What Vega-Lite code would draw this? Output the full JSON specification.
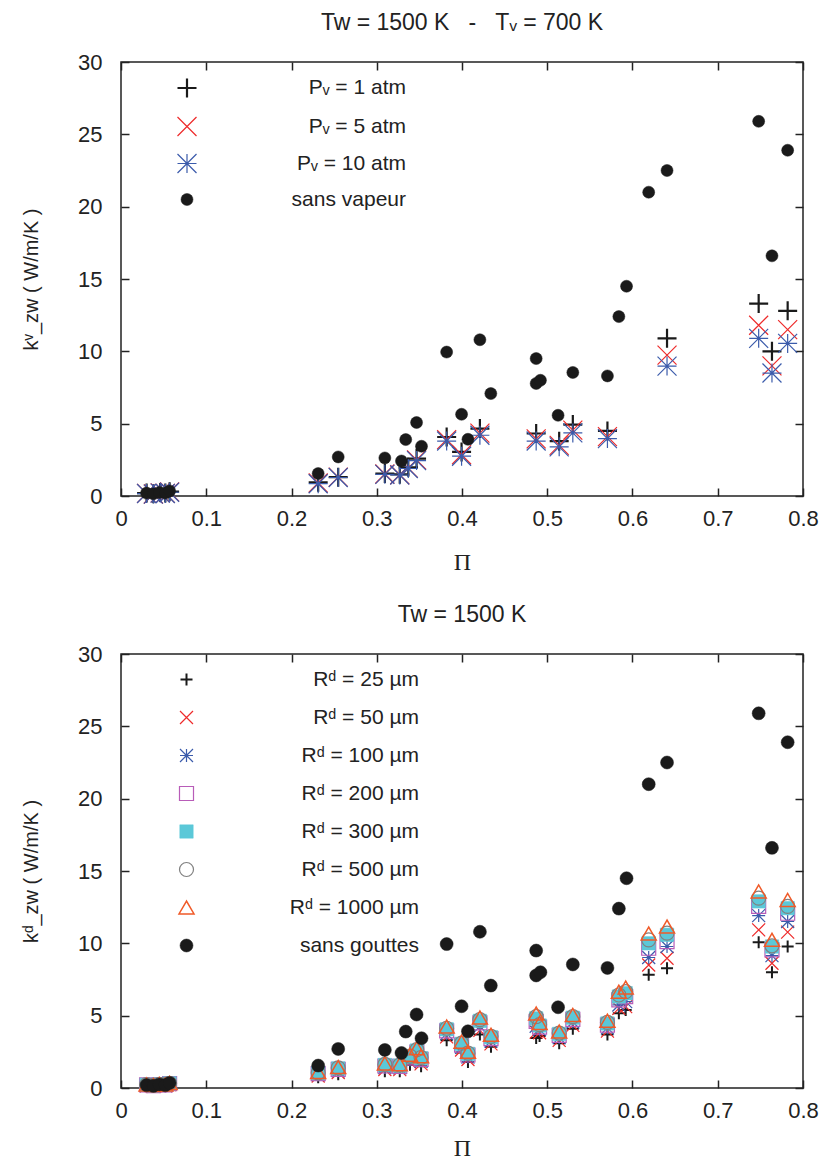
{
"$schema": "https://vega.github.io/schema/vega-lite/v6.json",
"background": "white",
"padding": {"left": 20, "top": 11, "right": 10, "bottom": 0},
"spacing": 28,
"config": {
  "font": "Liberation Sans",
  "view": {"stroke": "#222", "strokeWidth": 1.5},
  "axis": {"labelFont": "Liberation Sans", "labelFontSize": 22, "labelColor": "#222", "tickColor": "#222", "tickWidth": 1.5, "domain": false, "grid": false, "titleFontWeight": "normal", "titleColor": "#222", "labelFlush": false},
  "legend": {"labelFont": "Liberation Sans", "labelFontSize": 21, "labelColor": "#222", "labelLimit": 400},
  "title": {"fontSize": 23, "fontWeight": "normal", "color": "#222", "font": "Liberation Sans"}
},
"resolve": {"scale": {"shape": "independent", "stroke": "independent", "fill": "independent", "size": "independent", "strokeWidth": "independent"}},
"datasets": {
"vap": [
{"s":"p1","pi":0.03,"k":0.2},{"s":"p1","pi":0.038,"k":0.15},{"s":"p1","pi":0.046,"k":0.25},{"s":"p1","pi":0.052,"k":0.2},{"s":"p1","pi":0.057,"k":0.3},{"s":"p1","pi":0.2313,"k":0.95},{"s":"p1","pi":0.2548,"k":1.3},{"s":"p1","pi":0.3095,"k":1.55},{"s":"p1","pi":0.327,"k":1.5},{"s":"p1","pi":0.337,"k":1.98},{"s":"p1","pi":0.3467,"k":2.59},{"s":"p1","pi":0.382,"k":4.08},{"s":"p1","pi":0.3995,"k":3.05},{"s":"p1","pi":0.421,"k":4.66},{"s":"p1","pi":0.487,"k":4.32},{"s":"p1","pi":0.514,"k":3.79},{"s":"p1","pi":0.53,"k":4.94},{"s":"p1","pi":0.5706,"k":4.5},{"s":"p1","pi":0.6405,"k":10.9},{"s":"p1","pi":0.748,"k":13.3},{"s":"p1","pi":0.7636,"k":10.0},{"s":"p1","pi":0.782,"k":12.8},
{"s":"p5","pi":0.03,"k":0.18},{"s":"p5","pi":0.038,"k":0.14},{"s":"p5","pi":0.046,"k":0.22},{"s":"p5","pi":0.052,"k":0.18},{"s":"p5","pi":0.057,"k":0.28},{"s":"p5","pi":0.2313,"k":0.9},{"s":"p5","pi":0.2548,"k":1.3},{"s":"p5","pi":0.3095,"k":1.52},{"s":"p5","pi":0.327,"k":1.47},{"s":"p5","pi":0.337,"k":1.93},{"s":"p5","pi":0.3467,"k":2.5},{"s":"p5","pi":0.382,"k":3.9},{"s":"p5","pi":0.3995,"k":2.85},{"s":"p5","pi":0.421,"k":4.35},{"s":"p5","pi":0.487,"k":3.95},{"s":"p5","pi":0.514,"k":3.5},{"s":"p5","pi":0.53,"k":4.55},{"s":"p5","pi":0.5706,"k":4.1},{"s":"p5","pi":0.6405,"k":9.74},{"s":"p5","pi":0.748,"k":11.8},{"s":"p5","pi":0.7636,"k":9.0},{"s":"p5","pi":0.782,"k":11.5},
{"s":"p10","pi":0.03,"k":0.17},{"s":"p10","pi":0.038,"k":0.13},{"s":"p10","pi":0.046,"k":0.2},{"s":"p10","pi":0.052,"k":0.17},{"s":"p10","pi":0.057,"k":0.26},{"s":"p10","pi":0.2313,"k":0.85},{"s":"p10","pi":0.2548,"k":1.28},{"s":"p10","pi":0.3095,"k":1.5},{"s":"p10","pi":0.327,"k":1.45},{"s":"p10","pi":0.337,"k":1.9},{"s":"p10","pi":0.3467,"k":2.45},{"s":"p10","pi":0.382,"k":3.8},{"s":"p10","pi":0.3995,"k":2.75},{"s":"p10","pi":0.421,"k":4.2},{"s":"p10","pi":0.487,"k":3.8},{"s":"p10","pi":0.514,"k":3.4},{"s":"p10","pi":0.53,"k":4.36},{"s":"p10","pi":0.5706,"k":3.97},{"s":"p10","pi":0.6405,"k":8.98},{"s":"p10","pi":0.748,"k":10.9},{"s":"p10","pi":0.7636,"k":8.5},{"s":"p10","pi":0.782,"k":10.55},
{"s":"sv","pi":0.03,"k":0.2},{"s":"sv","pi":0.038,"k":0.15},{"s":"sv","pi":0.045,"k":0.25},{"s":"sv","pi":0.052,"k":0.2},{"s":"sv","pi":0.057,"k":0.35},{"s":"sv","pi":0.2313,"k":1.55},{"s":"sv","pi":0.2548,"k":2.7},{"s":"sv","pi":0.3095,"k":2.63},{"s":"sv","pi":0.329,"k":2.42},{"s":"sv","pi":0.334,"k":3.9},{"s":"sv","pi":0.3467,"k":5.08},{"s":"sv","pi":0.3525,"k":3.44},{"s":"sv","pi":0.382,"k":9.95},{"s":"sv","pi":0.3995,"k":5.65},{"s":"sv","pi":0.407,"k":3.92},{"s":"sv","pi":0.421,"k":10.8},{"s":"sv","pi":0.4338,"k":7.08},{"s":"sv","pi":0.487,"k":9.5},{"s":"sv","pi":0.487,"k":7.78},{"s":"sv","pi":0.492,"k":8.0},{"s":"sv","pi":0.5127,"k":5.58},{"s":"sv","pi":0.53,"k":8.54},{"s":"sv","pi":0.5706,"k":8.3},{"s":"sv","pi":0.584,"k":12.4},{"s":"sv","pi":0.593,"k":14.5},{"s":"sv","pi":0.619,"k":21.0},{"s":"sv","pi":0.6405,"k":22.5},{"s":"sv","pi":0.748,"k":25.9},{"s":"sv","pi":0.7636,"k":16.6},{"s":"sv","pi":0.782,"k":23.9}
],
"drop": [
{"s":"r25","pi":0.03,"k":0.12},{"s":"r25","pi":0.038,"k":0.1},{"s":"r25","pi":0.045,"k":0.15},{"s":"r25","pi":0.052,"k":0.12},{"s":"r25","pi":0.057,"k":0.2},{"s":"r25","pi":0.2313,"k":0.75},{"s":"r25","pi":0.2548,"k":0.95},{"s":"r25","pi":0.3095,"k":1.15},{"s":"r25","pi":0.327,"k":1.15},{"s":"r25","pi":0.339,"k":1.6},{"s":"r25","pi":0.347,"k":1.95},{"s":"r25","pi":0.352,"k":1.5},{"s":"r25","pi":0.382,"k":3.3},{"s":"r25","pi":0.3995,"k":2.45},{"s":"r25","pi":0.407,"k":1.8},{"s":"r25","pi":0.421,"k":3.7},{"s":"r25","pi":0.434,"k":2.85},{"s":"r25","pi":0.487,"k":3.45},{"s":"r25","pi":0.491,"k":3.6},{"s":"r25","pi":0.514,"k":3.1},{"s":"r25","pi":0.53,"k":4.1},{"s":"r25","pi":0.5706,"k":3.7},{"s":"r25","pi":0.584,"k":5.16},{"s":"r25","pi":0.592,"k":5.4},{"s":"r25","pi":0.619,"k":7.82},{"s":"r25","pi":0.6405,"k":8.28},{"s":"r25","pi":0.748,"k":10.08},{"s":"r25","pi":0.7636,"k":8.0},{"s":"r25","pi":0.782,"k":9.78},
{"s":"r50","pi":0.03,"k":0.15},{"s":"r50","pi":0.038,"k":0.12},{"s":"r50","pi":0.045,"k":0.18},{"s":"r50","pi":0.052,"k":0.15},{"s":"r50","pi":0.057,"k":0.24},{"s":"r50","pi":0.2313,"k":0.83},{"s":"r50","pi":0.2548,"k":1.07},{"s":"r50","pi":0.3095,"k":1.28},{"s":"r50","pi":0.327,"k":1.27},{"s":"r50","pi":0.339,"k":1.77},{"s":"r50","pi":0.347,"k":2.14},{"s":"r50","pi":0.352,"k":1.67},{"s":"r50","pi":0.382,"k":3.53},{"s":"r50","pi":0.3995,"k":2.63},{"s":"r50","pi":0.407,"k":1.97},{"s":"r50","pi":0.421,"k":3.98},{"s":"r50","pi":0.434,"k":3.05},{"s":"r50","pi":0.487,"k":3.86},{"s":"r50","pi":0.491,"k":3.82},{"s":"r50","pi":0.514,"k":3.29},{"s":"r50","pi":0.53,"k":4.33},{"s":"r50","pi":0.5706,"k":3.93},{"s":"r50","pi":0.584,"k":5.5},{"s":"r50","pi":0.592,"k":5.63},{"s":"r50","pi":0.619,"k":8.5},{"s":"r50","pi":0.6405,"k":8.97},{"s":"r50","pi":0.748,"k":10.93},{"s":"r50","pi":0.7636,"k":8.62},{"s":"r50","pi":0.782,"k":10.77},
{"s":"r100","pi":0.03,"k":0.18},{"s":"r100","pi":0.038,"k":0.15},{"s":"r100","pi":0.045,"k":0.21},{"s":"r100","pi":0.052,"k":0.18},{"s":"r100","pi":0.057,"k":0.27},{"s":"r100","pi":0.2313,"k":0.92},{"s":"r100","pi":0.2548,"k":1.19},{"s":"r100","pi":0.3095,"k":1.41},{"s":"r100","pi":0.327,"k":1.39},{"s":"r100","pi":0.339,"k":1.94},{"s":"r100","pi":0.347,"k":2.33},{"s":"r100","pi":0.352,"k":1.84},{"s":"r100","pi":0.382,"k":3.76},{"s":"r100","pi":0.3995,"k":2.81},{"s":"r100","pi":0.407,"k":2.14},{"s":"r100","pi":0.421,"k":4.26},{"s":"r100","pi":0.434,"k":3.25},{"s":"r100","pi":0.487,"k":4.27},{"s":"r100","pi":0.491,"k":4.03},{"s":"r100","pi":0.514,"k":3.48},{"s":"r100","pi":0.53,"k":4.56},{"s":"r100","pi":0.5706,"k":4.16},{"s":"r100","pi":0.584,"k":5.74},{"s":"r100","pi":0.592,"k":5.97},{"s":"r100","pi":0.619,"k":9.02},{"s":"r100","pi":0.6405,"k":9.78},{"s":"r100","pi":0.748,"k":11.92},{"s":"r100","pi":0.7636,"k":9.15},{"s":"r100","pi":0.782,"k":11.51},
{"s":"r200","pi":0.03,"k":0.21},{"s":"r200","pi":0.038,"k":0.17},{"s":"r200","pi":0.045,"k":0.24},{"s":"r200","pi":0.052,"k":0.21},{"s":"r200","pi":0.057,"k":0.3},{"s":"r200","pi":0.2313,"k":0.99},{"s":"r200","pi":0.2548,"k":1.29},{"s":"r200","pi":0.3095,"k":1.52},{"s":"r200","pi":0.327,"k":1.49},{"s":"r200","pi":0.339,"k":2.08},{"s":"r200","pi":0.347,"k":2.49},{"s":"r200","pi":0.352,"k":1.98},{"s":"r200","pi":0.382,"k":3.95},{"s":"r200","pi":0.3995,"k":2.96},{"s":"r200","pi":0.407,"k":2.28},{"s":"r200","pi":0.421,"k":4.5},{"s":"r200","pi":0.434,"k":3.41},{"s":"r200","pi":0.487,"k":4.6},{"s":"r200","pi":0.491,"k":4.21},{"s":"r200","pi":0.514,"k":3.64},{"s":"r200","pi":0.53,"k":4.75},{"s":"r200","pi":0.5706,"k":4.35},{"s":"r200","pi":0.584,"k":6.09},{"s":"r200","pi":0.592,"k":6.32},{"s":"r200","pi":0.619,"k":9.66},{"s":"r200","pi":0.6405,"k":10.12},{"s":"r200","pi":0.748,"k":12.55},{"s":"r200","pi":0.7636,"k":9.55},{"s":"r200","pi":0.782,"k":12.08},
{"s":"r300","pi":0.03,"k":0.22},{"s":"r300","pi":0.038,"k":0.18},{"s":"r300","pi":0.045,"k":0.25},{"s":"r300","pi":0.052,"k":0.22},{"s":"r300","pi":0.057,"k":0.32},{"s":"r300","pi":0.2313,"k":1.03},{"s":"r300","pi":0.2548,"k":1.35},{"s":"r300","pi":0.3095,"k":1.59},{"s":"r300","pi":0.327,"k":1.55},{"s":"r300","pi":0.339,"k":2.16},{"s":"r300","pi":0.347,"k":2.59},{"s":"r300","pi":0.352,"k":2.06},{"s":"r300","pi":0.382,"k":4.06},{"s":"r300","pi":0.3995,"k":3.05},{"s":"r300","pi":0.407,"k":2.36},{"s":"r300","pi":0.421,"k":4.64},{"s":"r300","pi":0.434,"k":3.51},{"s":"r300","pi":0.487,"k":4.81},{"s":"r300","pi":0.491,"k":4.32},{"s":"r300","pi":0.514,"k":3.74},{"s":"r300","pi":0.53,"k":4.86},{"s":"r300","pi":0.5706,"k":4.46},{"s":"r300","pi":0.584,"k":6.32},{"s":"r300","pi":0.592,"k":6.55},{"s":"r300","pi":0.619,"k":10.0},{"s":"r300","pi":0.6405,"k":10.59},{"s":"r300","pi":0.748,"k":12.9},{"s":"r300","pi":0.7636,"k":9.78},{"s":"r300","pi":0.782,"k":12.43},
{"s":"r500","pi":0.03,"k":0.23},{"s":"r500","pi":0.038,"k":0.19},{"s":"r500","pi":0.045,"k":0.26},{"s":"r500","pi":0.052,"k":0.23},{"s":"r500","pi":0.057,"k":0.33},{"s":"r500","pi":0.2313,"k":1.05},{"s":"r500","pi":0.2548,"k":1.39},{"s":"r500","pi":0.3095,"k":1.63},{"s":"r500","pi":0.327,"k":1.59},{"s":"r500","pi":0.339,"k":2.21},{"s":"r500","pi":0.347,"k":2.65},{"s":"r500","pi":0.352,"k":2.11},{"s":"r500","pi":0.382,"k":4.13},{"s":"r500","pi":0.3995,"k":3.1},{"s":"r500","pi":0.407,"k":2.41},{"s":"r500","pi":0.421,"k":4.72},{"s":"r500","pi":0.434,"k":3.57},{"s":"r500","pi":0.487,"k":4.93},{"s":"r500","pi":0.491,"k":4.38},{"s":"r500","pi":0.514,"k":3.8},{"s":"r500","pi":0.53,"k":4.93},{"s":"r500","pi":0.5706,"k":4.53},{"s":"r500","pi":0.584,"k":6.43},{"s":"r500","pi":0.592,"k":6.66},{"s":"r500","pi":0.619,"k":10.24},{"s":"r500","pi":0.6405,"k":10.7},{"s":"r500","pi":0.748,"k":13.12},{"s":"r500","pi":0.7636,"k":9.83},{"s":"r500","pi":0.782,"k":12.55},
{"s":"r1000","pi":0.03,"k":0.25},{"s":"r1000","pi":0.038,"k":0.2},{"s":"r1000","pi":0.045,"k":0.28},{"s":"r1000","pi":0.052,"k":0.25},{"s":"r1000","pi":0.057,"k":0.35},{"s":"r1000","pi":0.2313,"k":1.1},{"s":"r1000","pi":0.2548,"k":1.45},{"s":"r1000","pi":0.3095,"k":1.7},{"s":"r1000","pi":0.327,"k":1.65},{"s":"r1000","pi":0.339,"k":2.3},{"s":"r1000","pi":0.347,"k":2.75},{"s":"r1000","pi":0.352,"k":2.2},{"s":"r1000","pi":0.382,"k":4.25},{"s":"r1000","pi":0.3995,"k":3.2},{"s":"r1000","pi":0.407,"k":2.5},{"s":"r1000","pi":0.421,"k":4.87},{"s":"r1000","pi":0.434,"k":3.68},{"s":"r1000","pi":0.487,"k":5.15},{"s":"r1000","pi":0.491,"k":4.5},{"s":"r1000","pi":0.514,"k":3.9},{"s":"r1000","pi":0.53,"k":5.05},{"s":"r1000","pi":0.5706,"k":4.65},{"s":"r1000","pi":0.584,"k":6.66},{"s":"r1000","pi":0.592,"k":6.94},{"s":"r1000","pi":0.619,"k":10.68},{"s":"r1000","pi":0.6405,"k":11.16},{"s":"r1000","pi":0.748,"k":13.59},{"s":"r1000","pi":0.7636,"k":10.24},{"s":"r1000","pi":0.782,"k":13.0},
{"s":"sg","pi":0.03,"k":0.2},{"s":"sg","pi":0.038,"k":0.15},{"s":"sg","pi":0.045,"k":0.25},{"s":"sg","pi":0.052,"k":0.2},{"s":"sg","pi":0.057,"k":0.35},{"s":"sg","pi":0.2313,"k":1.55},{"s":"sg","pi":0.2548,"k":2.7},{"s":"sg","pi":0.3095,"k":2.63},{"s":"sg","pi":0.329,"k":2.42},{"s":"sg","pi":0.334,"k":3.9},{"s":"sg","pi":0.3467,"k":5.08},{"s":"sg","pi":0.3525,"k":3.44},{"s":"sg","pi":0.382,"k":9.95},{"s":"sg","pi":0.3995,"k":5.65},{"s":"sg","pi":0.407,"k":3.92},{"s":"sg","pi":0.421,"k":10.8},{"s":"sg","pi":0.4338,"k":7.08},{"s":"sg","pi":0.487,"k":9.5},{"s":"sg","pi":0.487,"k":7.78},{"s":"sg","pi":0.492,"k":8.0},{"s":"sg","pi":0.5127,"k":5.58},{"s":"sg","pi":0.53,"k":8.54},{"s":"sg","pi":0.5706,"k":8.3},{"s":"sg","pi":0.584,"k":12.4},{"s":"sg","pi":0.593,"k":14.5},{"s":"sg","pi":0.619,"k":21.0},{"s":"sg","pi":0.6405,"k":22.5},{"s":"sg","pi":0.748,"k":25.9},{"s":"sg","pi":0.7636,"k":16.6},{"s":"sg","pi":0.782,"k":23.9}
]
},
"vconcat": [
{
  "width": 682, "height": 434,
  "title": {"text": "Tw = 1500 K\u00a0\u00a0\u00a0-\u00a0\u00a0\u00a0Tᵥ = 700 K", "offset": 16},
  "data": {"name": "vap"},
  "layer": [
    {
      "mark": {"type": "point", "opacity": 1},
      "encoding": {
        "x": {"field": "pi", "type": "quantitative", "scale": {"domain": [0, 0.8], "nice": false},
              "axis": {"orient": "bottom", "values": [0,0.1,0.2,0.3,0.4,0.5,0.6,0.7,0.8], "format": "~g", "ticks": false, "labelPadding": 12, "title": "Π", "titleFont": "Liberation Serif", "titleFontSize": 24, "titlePadding": 21}},
        "y": {"field": "k", "type": "quantitative", "scale": {"domain": [0, 30], "nice": false},
              "axis": {"orient": "left", "values": [0,5,10,15,20,25,30], "ticks": false, "labelPadding": 19, "title": "kᵛ_zw  ( W/m/K )", "titleFontSize": 20, "titlePadding": 36}},
        "shape": {"field": "s", "type": "nominal",
          "scale": {"domain": ["p1","p5","p10","sv"], "range": ["M-1,0L1,0M0,-1L0,1", "M-1,-1L1,1M-1,1L1,-1", "M-1,0L1,0M0,-1L0,1M-1,-1L1,1M-1,1L1,-1", "circle"]},
          "legend": {"orient": "none", "legendX": 55, "legendY": 15, "title": null, "labelAlign": "right", "labelOffset": 208, "rowPadding": 12,
            "labelExpr": "datum.value == 'p1' ? 'Pᵥ = 1 atm' : datum.value == 'p5' ? 'Pᵥ = 5 atm' : datum.value == 'p10' ? 'Pᵥ = 10 atm' : 'sans vapeur'"}},
        "stroke": {"field": "s", "type": "nominal", "scale": {"domain": ["p1","p5","p10","sv"], "range": ["#1a1a1a", "#ee2a2a", "#3b5bab", "#1a1a1a"]}},
        "fill": {"field": "s", "type": "nominal", "scale": {"domain": ["p1","p5","p10","sv"], "range": ["transparent", "transparent", "transparent", "#1a1a1a"]}},
        "size": {"field": "s", "type": "nominal", "scale": {"type": "ordinal", "domain": ["p1","p5","p10","sv"], "range": [361, 361, 361, 144]}},
        "strokeWidth": {"field": "s", "type": "nominal", "scale": {"type": "ordinal", "domain": ["p1","p5","p10","sv"], "range": [2.2, 1.2, 1.2, 0.5]}}
      }
    },
    {
      "mark": {"type": "point", "opacity": 0},
      "encoding": {
        "x": {"field": "pi", "type": "quantitative", "scale": {"domain": [0, 0.8], "nice": false},
              "axis": {"orient": "top", "values": [0,0.1,0.2,0.3,0.4,0.5,0.6,0.7,0.8], "tickSize": 8, "offset": -8, "labels": false, "title": null}},
        "y": {"field": "k", "type": "quantitative", "scale": {"domain": [0, 30], "nice": false},
              "axis": {"orient": "right", "values": [0,5,10,15,20,25,30], "tickSize": 8, "offset": -8, "labels": false, "title": null}}
      }
    },
    {
      "mark": {"type": "point", "opacity": 0},
      "encoding": {
        "x": {"field": "pi", "type": "quantitative", "scale": {"domain": [0, 0.8], "nice": false},
              "axis": {"orient": "bottom", "values": [0,0.1,0.2,0.3,0.4,0.5,0.6,0.7,0.8], "tickSize": 8, "offset": -8, "labels": false, "title": null}},
        "y": {"field": "k", "type": "quantitative", "scale": {"domain": [0, 30], "nice": false},
              "axis": {"orient": "left", "values": [0,5,10,15,20,25,30], "tickSize": 8, "offset": -8, "labels": false, "title": null}}
      }
    }
  ],
  "resolve": {"axis": {"x": "independent", "y": "independent"}}
},
{
  "width": 682, "height": 434,
  "title": {"text": "Tw = 1500 K", "offset": 16},
  "data": {"name": "drop"},
  "layer": [
    {
      "mark": {"type": "point", "opacity": 1},
      "encoding": {
        "x": {"field": "pi", "type": "quantitative", "scale": {"domain": [0, 0.8], "nice": false},
              "axis": {"orient": "bottom", "values": [0,0.1,0.2,0.3,0.4,0.5,0.6,0.7,0.8], "format": "~g", "ticks": false, "labelPadding": 12, "title": "Π", "titleFont": "Liberation Serif", "titleFontSize": 24, "titlePadding": 15}},
        "y": {"field": "k", "type": "quantitative", "scale": {"domain": [0, 30], "nice": false},
              "axis": {"orient": "left", "values": [0,5,10,15,20,25,30], "ticks": false, "labelPadding": 19, "title": "kᵈ_zw  ( W/m/K )", "titleFontSize": 20, "titlePadding": 36}},
        "shape": {"field": "s", "type": "nominal",
          "scale": {"domain": ["r25","r50","r100","r200","r300","r500","r1000","sg"], "range": ["M-1,0L1,0M0,-1L0,1", "M-1,-1L1,1M-1,1L1,-1", "M-1,0L1,0M0,-1L0,1M-1,-1L1,1M-1,1L1,-1", "square", "square", "circle", "triangle-up", "circle"]},
          "legend": {"orient": "none", "legendX": 55, "legendY": 15, "title": null, "labelAlign": "right", "labelOffset": 222, "rowPadding": 16,
            "labelExpr": "datum.value == 'r25' ? 'Rᵈ = 25 µm' : datum.value == 'r50' ? 'Rᵈ = 50 µm' : datum.value == 'r100' ? 'Rᵈ = 100 µm' : datum.value == 'r200' ? 'Rᵈ = 200 µm' : datum.value == 'r300' ? 'Rᵈ = 300 µm' : datum.value == 'r500' ? 'Rᵈ = 500 µm' : datum.value == 'r1000' ? 'Rᵈ = 1000 µm' : 'sans gouttes'"}},
        "stroke": {"field": "s", "type": "nominal", "scale": {"domain": ["r25","r50","r100","r200","r300","r500","r1000","sg"], "range": ["#1a1a1a", "#ee2a2a", "#3b5bab", "#b85cb8", "#5bc8d8", "#808080", "#f05a28", "#1a1a1a"]}},
        "fill": {"field": "s", "type": "nominal", "scale": {"domain": ["r25","r50","r100","r200","r300","r500","r1000","sg"], "range": ["transparent", "transparent", "transparent", "transparent", "#5bc8d8", "transparent", "transparent", "#1a1a1a"]}},
        "size": {"field": "s", "type": "nominal", "scale": {"type": "ordinal", "domain": ["r25","r50","r100","r200","r300","r500","r1000","sg"], "range": [144, 169, 169, 196, 180, 196, 225, 169]}},
        "strokeWidth": {"field": "s", "type": "nominal", "scale": {"type": "ordinal", "domain": ["r25","r50","r100","r200","r300","r500","r1000","sg"], "range": [2, 1.2, 1.2, 1.2, 0.5, 1.2, 1.5, 0.5]}}
      }
    },
    {
      "mark": {"type": "point", "opacity": 0},
      "encoding": {
        "x": {"field": "pi", "type": "quantitative", "scale": {"domain": [0, 0.8], "nice": false},
              "axis": {"orient": "top", "values": [0,0.1,0.2,0.3,0.4,0.5,0.6,0.7,0.8], "tickSize": 8, "offset": -8, "labels": false, "title": null}},
        "y": {"field": "k", "type": "quantitative", "scale": {"domain": [0, 30], "nice": false},
              "axis": {"orient": "right", "values": [0,5,10,15,20,25,30], "tickSize": 8, "offset": -8, "labels": false, "title": null}}
      }
    },
    {
      "mark": {"type": "point", "opacity": 0},
      "encoding": {
        "x": {"field": "pi", "type": "quantitative", "scale": {"domain": [0, 0.8], "nice": false},
              "axis": {"orient": "bottom", "values": [0,0.1,0.2,0.3,0.4,0.5,0.6,0.7,0.8], "tickSize": 8, "offset": -8, "labels": false, "title": null}},
        "y": {"field": "k", "type": "quantitative", "scale": {"domain": [0, 30], "nice": false},
              "axis": {"orient": "left", "values": [0,5,10,15,20,25,30], "tickSize": 8, "offset": -8, "labels": false, "title": null}}
      }
    }
  ],
  "resolve": {"axis": {"x": "independent", "y": "independent"}}
}
]
}
